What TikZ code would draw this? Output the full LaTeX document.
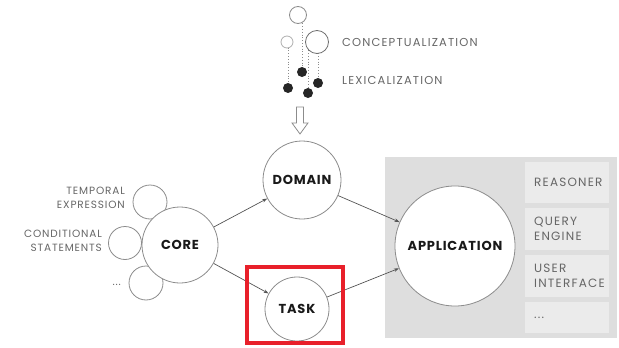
\documentclass[tikz,border=0pt]{standalone}
\usepackage{fontspec}
\setmainfont{Poppins}
\usetikzlibrary{arrows.meta,backgrounds}
\definecolor{linegray}{HTML}{555555}
\definecolor{circgray}{HTML}{8C8C8C}
\definecolor{txtgray}{HTML}{666666}
\definecolor{panel}{HTML}{DEDEDE}
\definecolor{cell}{HTML}{EBEBEB}
\definecolor{redbox}{HTML}{E8202A}
\tikzset{
  ring/.style={circle,draw=circgray,line width=0.8pt,fill=white,inner sep=0pt},
  bigc/.style={ring,font=\fontsize{13}{13}\selectfont\bfseries\addfontfeature{LetterSpace=6},text=black!90},
  dot/.style={circle,fill=black!85,inner sep=0pt,minimum size=10pt},
  lbl/.style={text=txtgray,font=\fontsize{10.5}{13.5}\selectfont\addfontfeature{LetterSpace=8},inner sep=0pt,align=right},
  toplbl/.style={text=txtgray,font=\fontsize{11.5}{13}\selectfont\addfontfeature{LetterSpace=10},inner sep=0pt,anchor=west},
  cellbox/.style={fill=cell,minimum width=84pt,inner sep=0pt,anchor=north west,text=txtgray,font=\fontsize{12}{15}\selectfont\addfontfeature{LetterSpace=10},align=left,text width=80pt},
  conn/.style={draw=linegray,line width=0.7pt,-{Stealth[length=5pt,width=3.5pt]}},
  dots/.style={draw=circgray,dotted,line width=0.8pt}
}
\begin{document}
\begin{tikzpicture}[x=1pt,y=-1pt]
\useasboundingbox (0,0) rectangle (619,348);
% panel
\node[fill=panel,minimum width=232pt,minimum height=181pt,inner sep=0pt,anchor=north west] (panel) at (385,157) {};
\node[cellbox,minimum height=41pt] (reas) at (525,162) {\hspace*{7pt}REASONER};
\node[cellbox,minimum height=42pt] (query) at (525,208) {\hspace*{7pt}QUERY\\\hspace*{7pt}ENGINE};
\node[cellbox,minimum height=42pt] (ui) at (525,255) {\hspace*{7pt}USER\\\hspace*{7pt}INTERFACE};
\node[cellbox,minimum height=31pt] (more) at (525,302) {\hspace*{7pt}...};
% main circles
\node[bigc,minimum size=120pt] (app) at (455,246) {APPLICATION};
\node[bigc,minimum size=78pt] (dom) at (302,180) {DOMAIN};
\node[bigc,minimum size=64pt] (task) at (297,309) {TASK};
\node[ring,minimum size=34pt] (temp) at (150,202) {};
\node[ring,minimum size=33pt] (cond) at (125,243) {};
\node[ring,minimum size=34pt] (etc) at (146,283) {};
\node[bigc,minimum size=76pt] (core) at (180,245) {CORE};
% labels
\node[lbl,anchor=east] (ltemp) at (125,198) {TEMPORAL\\EXPRESSION};
\node[lbl,anchor=east] (lcond) at (102,241) {CONDITIONAL\\STATEMENTS};
\node[lbl,anchor=east] (letc) at (121,285) {...};
% connectors
\draw[conn] (core) -- (dom);
\draw[conn] (core) -- (task);
\draw[conn] (dom) -- (app);
\draw[conn] (task) -- (app);
% red box
\node[draw=redbox,line width=4pt,minimum width=96pt,minimum height=76pt,inner sep=0pt] (red) at (295,305) {};
% top symbols
\node[ring,minimum size=17pt] (c1) at (298,15) {};
\node[ring,minimum size=12pt,draw=circgray!70] (c2) at (287,42) {};
\node[ring,minimum size=23pt,draw=circgray!80!black] (c3) at (317,42) {};
\node[dot] (d1) at (302,72) {};
\node[dot] (d2) at (288,88) {};
\node[dot] (d3) at (308,93) {};
\node[dot] (d4) at (318,83) {};
\begin{pgfonlayer}{background}
\draw[dots] (d1 |- c1) -- (d1);
\draw[dots] (d2 |- c2) -- (d2);
\draw[dots] (d3 |- c3) -- (d3);
\draw[dots] (d4 |- c3) -- (d4);
\end{pgfonlayer}
\node[toplbl] (concept) at (342,42) {CONCEPTUALIZATION};
\node[toplbl] (lex) at (342,80) {LEXICALIZATION};
% hollow arrow
\draw[draw=circgray,line width=0.8pt,fill=white] (296.5,107) -- (303.5,107) -- (303.5,123) -- (308,123) -- (300,134) -- (292,123) -- (296.5,123) -- cycle;
\end{tikzpicture}
\end{document}
